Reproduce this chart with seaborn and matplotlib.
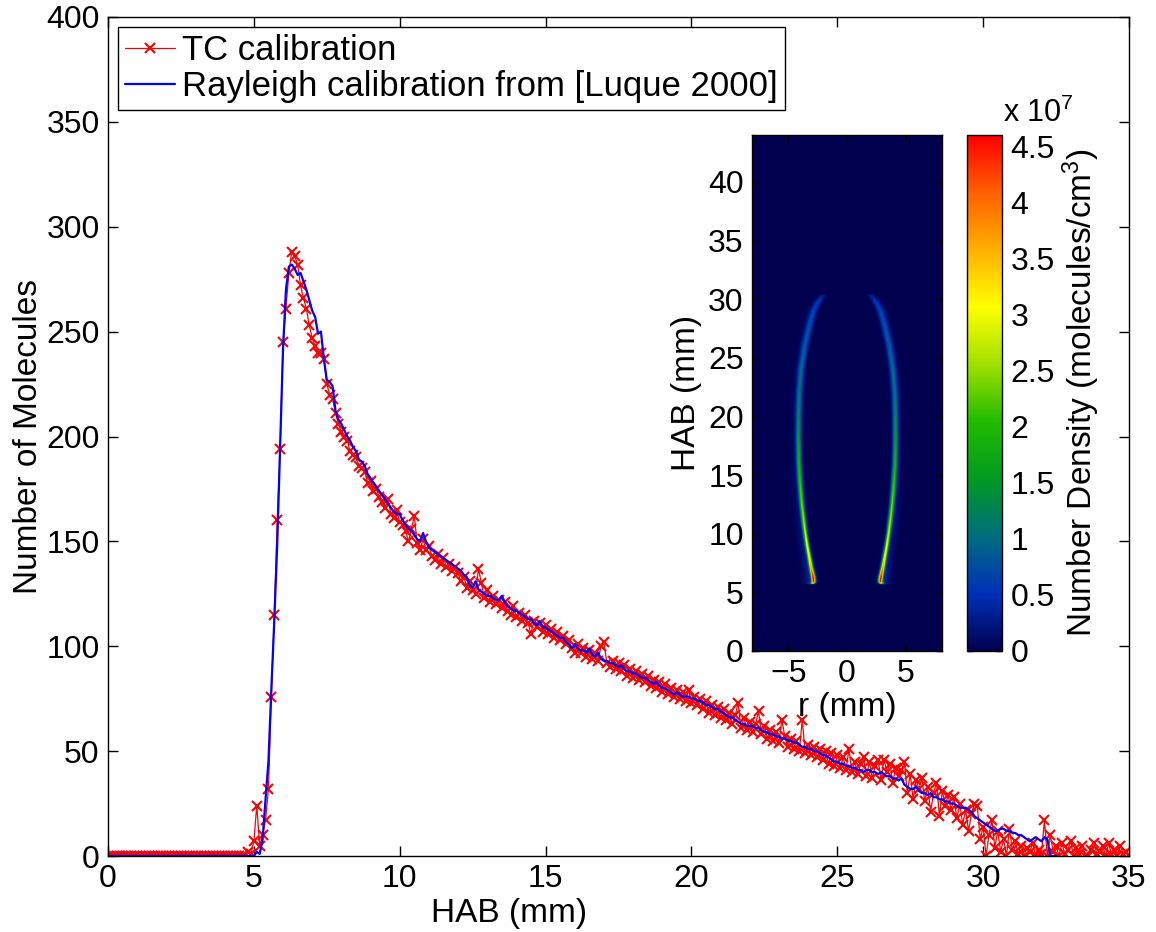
import numpy as np
import pandas as pd
import matplotlib
matplotlib.use("Agg")
import matplotlib.pyplot as plt
from matplotlib.colors import LinearSegmentedColormap
import seaborn as sns

# ---------------- data ----------------
HAB_STEP = 0.1  # mm, sampling of both profiles

# TC calibration (red, x markers), HAB 0.0 ... 35.0 mm
tc_counts = [
    0, 0, 0, 0, 0, 0, 0, 0, 0, 0,
    0, 0, 0, 0, 0, 0, 0, 0, 0, 0,
    0, 0, 0, 0, 0, 0, 0, 0, 0, 0,
    0, 0, 0, 0, 0, 0, 0, 0, 0, 0,
    0, 0, 0, 0, 0, 0, 0, 0, 2, 1,
    7, 24, 5, 10, 17, 32, 76, 115, 160, 194,
    245, 261, 278, 288, 286, 282, 272, 266, 261, 253,
    247, 243, 240, 240, 237, 225, 220, 218, 211, 206,
    202, 200, 198, 193, 191, 190, 186, 185, 183, 178,
    179, 174, 175, 171, 169, 166, 170, 163, 161, 165,
    159, 158, 155, 150, 156, 162, 149, 146, 151, 146,
    148, 143, 141, 144, 139, 142, 138, 139, 136, 138,
    135, 131, 133, 128, 131, 127, 125, 137, 130, 123,
    127, 121, 124, 120, 122, 118, 121, 117, 115, 119,
    114, 116, 112, 115, 111, 106, 112, 109, 111, 107,
    110, 106, 108, 104, 107, 103, 105, 101, 103, 99,
    97, 101, 97, 99, 95, 98, 94, 97, 93, 100,
    102, 92, 90, 93, 89, 92, 88, 91, 86, 89,
    85, 88, 84, 87, 83, 86, 81, 84, 80, 83,
    78, 82, 77, 80, 76, 79, 75, 78, 74, 79,
    73, 76, 72, 75, 70, 74, 68, 72, 67, 71,
    66, 70, 65, 68, 63, 67, 73, 61, 66, 60,
    64, 59, 63, 69, 58, 62, 56, 60, 55, 59,
    54, 65, 57, 52, 56, 51, 55, 50, 65, 49,
    53, 48, 52, 47, 51, 46, 50, 44, 49, 43,
    48, 42, 47, 41, 51, 40, 45, 39, 44, 47,
    38, 45, 37, 43, 46, 36, 46, 40, 44, 35,
    42, 38, 41, 45, 30, 39, 27, 36, 32, 37,
    26, 33, 21, 30, 35, 19, 31, 24, 29, 22,
    28, 18, 25, 15, 22, 12, 20, 25, 24, 8,
    14, 0, 10, 17, 4, 12, 2, 8, 0, 13,
    3, 7, 1, 5, 0, 4, 2, 6, 0, 3,
    1, 17, 0, 10, 2, 5, 0, 6, 1, 3,
    7, 0, 4, 1, 5, 0, 0, 3, 6, 1,
    2, 5, 0, 6, 1, 3, 0, 5, 1, 2,
    0,
]

# Rayleigh calibration (blue line), HAB 0.0 ... 32.5 mm
ray_counts = [
    0, 0, 0, 0, 0, 0, 0, 0, 0, 0,
    0, 0, 0, 0, 0, 0, 0, 0, 0, 0,
    0, 0, 0, 0, 0, 0, 0, 0, 0, 0,
    0, 0, 0, 0, 0, 0, 0, 0, 0, 0,
    0, 0, 0, 0, 0, 0, 0, 0, 0, 0,
    0, 2, 1, 8, 27, 45, 80, 112, 148, 195,
    242, 270, 281, 282, 280, 277, 278, 274, 270, 265,
    260, 257, 249, 250, 237, 227, 226, 224, 212, 208,
    206, 203, 200, 198, 195, 193, 189, 188, 186, 182,
    180, 178, 176, 174, 172, 170, 168, 166, 164, 163,
    163, 160, 158, 156, 155, 153, 151, 150, 154, 150,
    147, 146, 145, 144, 143, 142, 141, 140, 139, 138,
    137, 136, 134, 133, 129, 128, 131, 127, 126, 125,
    124, 124, 123, 122, 122, 124, 121, 119, 118, 117,
    117, 116, 115, 114, 113, 113, 111, 110, 112, 109,
    109, 108, 107, 106, 105, 104, 104, 102, 101, 99,
    101, 99, 98, 98, 97, 99, 96, 95, 97, 94,
    93, 93, 92, 92, 91, 90, 91, 89, 88, 88,
    87, 87, 86, 85, 85, 84, 83, 82, 83, 81,
    80, 80, 79, 78, 77, 78, 77, 76, 76, 76,
    75, 75, 74, 74, 73, 72, 72, 71, 70, 70,
    69, 68, 67, 66, 66, 65, 64, 63, 63, 62,
    62, 62, 61, 61, 60, 59, 59, 58, 58, 57,
    57, 56, 56, 55, 55, 54, 54, 53, 52, 52,
    51, 51, 50, 50, 49, 48, 48, 47, 46, 45,
    45, 44, 44, 43, 43, 42, 42, 41, 41, 40,
    41, 41, 40, 40, 39, 40, 39, 38, 38, 37,
    37, 36, 37, 34, 33, 32, 32, 33, 31, 30,
    30, 29, 30, 28, 28, 27, 27, 26, 26, 25,
    25, 24, 23, 23, 23, 22, 21, 19, 18, 17,
    16, 15, 14, 13, 12, 12, 13, 13, 12, 12,
    11, 11, 10, 10, 9, 8, 7, 8, 9, 8,
    7, 9, 8, 0, 0, 0,
]

# Inset: number density field, flame wing (mirror-symmetric in r), units of 1e7 molecules/cm^3
wing_hab = [5.7, 5.9, 6.2, 6.6, 7.2, 8.0, 9.0, 10.0, 11.0, 12.5, 14.0,
            16.0, 18.0, 20.0, 22.0, 24.0, 26.0, 28.0, 29.0, 29.8, 30.4]
wing_r = [2.95, 2.85, 2.87, 2.95, 3.08, 3.22, 3.40, 3.55, 3.68, 3.85, 3.98,
          4.10, 4.14, 4.13, 4.08, 3.92, 3.62, 3.15, 2.86, 2.45, 2.00]
wing_peak = [1.8, 4.4, 4.6, 4.1, 3.5, 3.1, 2.9, 2.7, 2.5, 2.3, 2.1,
             1.85, 1.55, 1.25, 1.05, 0.95, 0.85, 0.72, 0.65, 0.52, 0.25]
wing_sigma = [0.13, 0.12, 0.12, 0.12, 0.12, 0.12, 0.12, 0.12, 0.13, 0.13, 0.14,
              0.14, 0.15, 0.16, 0.17, 0.18, 0.19, 0.20, 0.20, 0.20, 0.20]
halo_peak = [0.35, 0.35, 0.35, 0.30, 0.26, 0.22, 0.20, 0.18, 0.16, 0.14, 0.12,
             0.10, 0.09, 0.08, 0.07, 0.07, 0.06, 0.06, 0.06, 0.05, 0.02]
R_LIM = 8.1
HAB_LIM = 44.0
CB_MAX = 4.6
cb_ticks = [0, 0.5, 1, 1.5, 2, 2.5, 3, 3.5, 4, 4.5]
cmap_colors = ["#00004f", "#0030b8", "#006e7c", "#009a22", "#22bb00",
               "#a0e000", "#ffff00", "#ffb000", "#ff6000", "#ff0000"]

# ---------------- style ----------------
sns.set_theme(style="ticks")
plt.rcParams['font.family'] = ['Liberation Sans', 'DejaVu Sans']
plt.rcParams['mathtext.fontset'] = 'custom'
plt.rcParams['mathtext.rm'] = 'Liberation Sans'
plt.rcParams['mathtext.it'] = 'Liberation Sans:italic'
plt.rcParams['axes.unicode_minus'] = True
for key in ['text.color', 'axes.labelcolor', 'xtick.color', 'ytick.color',
            'axes.edgecolor']:
    plt.rcParams[key] = 'black'
FS = 23
FS_LAB = 24
FS_LEG = 25

fig = plt.figure(figsize=(11.56, 9.32), dpi=100)
W, H = 1156, 932

# ---------------- main axes ----------------
ax = fig.add_axes([108 / W, (H - 856) / H, 1021 / W, 839 / H])

hab_tc = np.round(HAB_STEP * np.arange(len(tc_counts)), 1)
hab_ray = np.round(HAB_STEP * np.arange(len(ray_counts)), 1)
df_tc = pd.DataFrame({"HAB": hab_tc, "N": tc_counts})
df_ray = pd.DataFrame({"HAB": hab_ray, "N": ray_counts})

sns.lineplot(data=df_tc, x="HAB", y="N", ax=ax, estimator=None, sort=False,
             color="#ff0000", linewidth=0.9, marker="x", markersize=7,
             markeredgewidth=1.5, markeredgecolor="#ff0000",
             label="TC calibration")
sns.lineplot(data=df_ray, x="HAB", y="N", ax=ax, estimator=None, sort=False,
             color="#0000ff", linewidth=1.6,
             label="Rayleigh calibration from [Luque 2000]")

ax.set_xlim(0, 35)
ax.set_ylim(0, 400)
ax.set_xticks(range(0, 36, 5))
ax.set_yticks(range(0, 401, 50))
ax.tick_params(direction="in", length=7, width=1, top=True, right=True,
               labelsize=FS, colors="black", pad=6)
for s in ax.spines.values():
    s.set_visible(True)
    s.set_linewidth(1.0)
    s.set_color("black")
ax.set_xlabel("HAB (mm)", fontsize=FS_LAB, color="black")
ax.set_ylabel("Number of Molecules", fontsize=FS_LAB, color="black", labelpad=2)
ax.xaxis.set_label_coords(0.393, -0.050)

leg = ax.legend(loc="upper left", fontsize=FS_LEG, frameon=True, fancybox=False,
                edgecolor="black", framealpha=1, borderaxespad=0.28,
                handlelength=1.45, handletextpad=0.2, borderpad=0.2,
                labelspacing=0.1, numpoints=1)
leg.get_frame().set_linewidth(1.0)
for t in leg.get_texts():
    t.set_color("black")

# ---------------- inset image ----------------
axi = fig.add_axes([752 / W, (H - 651) / H, 190 / W, 516 / H])
r_grid = np.linspace(-R_LIM, R_LIM, 811)
h_grid = np.linspace(0, HAB_LIM, 2201)
rc = np.interp(h_grid, wing_hab, wing_r)
pk = np.interp(h_grid, wing_hab, wing_peak, left=0, right=0)
sg = np.interp(h_grid, wing_hab, wing_sigma)
hp = np.interp(h_grid, wing_hab, halo_peak, left=0, right=0)
dr = np.abs(r_grid)[None, :] - rc[:, None]
field = (pk[:, None] * np.exp(-dr ** 2 / (2 * sg[:, None] ** 2))
         + hp[:, None] * np.exp(-(dr - 0.25) ** 2 / (2 * 0.35 ** 2)))
cmap = LinearSegmentedColormap.from_list("density", cmap_colors, N=256)
im = axi.imshow(field, extent=[-R_LIM, R_LIM, 0, HAB_LIM], origin="lower",
                cmap=cmap, vmin=0, vmax=CB_MAX, aspect="auto",
                interpolation="antialiased")
axi.set_xlim(-R_LIM, R_LIM)
axi.set_ylim(0, HAB_LIM)
axi.set_xticks([-5, 0, 5])
axi.set_yticks(range(0, 41, 5))
axi.tick_params(direction="in", length=4, width=1, top=True, right=True,
                labelsize=FS, colors="black", pad=6)
for s in axi.spines.values():
    s.set_visible(True)
    s.set_linewidth(1.0)
    s.set_color("black")
axi.set_xlabel("r (mm)", fontsize=FS_LAB, labelpad=2, color="black")
axi.set_ylabel("HAB (mm)", fontsize=FS_LAB, labelpad=4, color="black")

# ---------------- colorbar ----------------
cax = fig.add_axes([967 / W, (H - 651) / H, 35 / W, 516 / H])
cb = fig.colorbar(im, cax=cax)
cb.set_ticks(cb_ticks)
cb.set_ticklabels(["%g" % t for t in cb_ticks])
cax.tick_params(direction="in", length=4, width=1, left=True, right=True,
                labelsize=FS, colors="black", pad=6)
cb.outline.set_linewidth(1.0)
cb.outline.set_edgecolor("black")
cb.set_label("Number Density (molecules/cm$^3$)", fontsize=FS_LAB, labelpad=4,
             color="black")
cax.text(1.03, 1.012, r"x 10$^7$", transform=cax.transAxes, ha="left",
         va="bottom", fontsize=FS - 1, color="black")

fig.savefig("out.png", dpi=100)
